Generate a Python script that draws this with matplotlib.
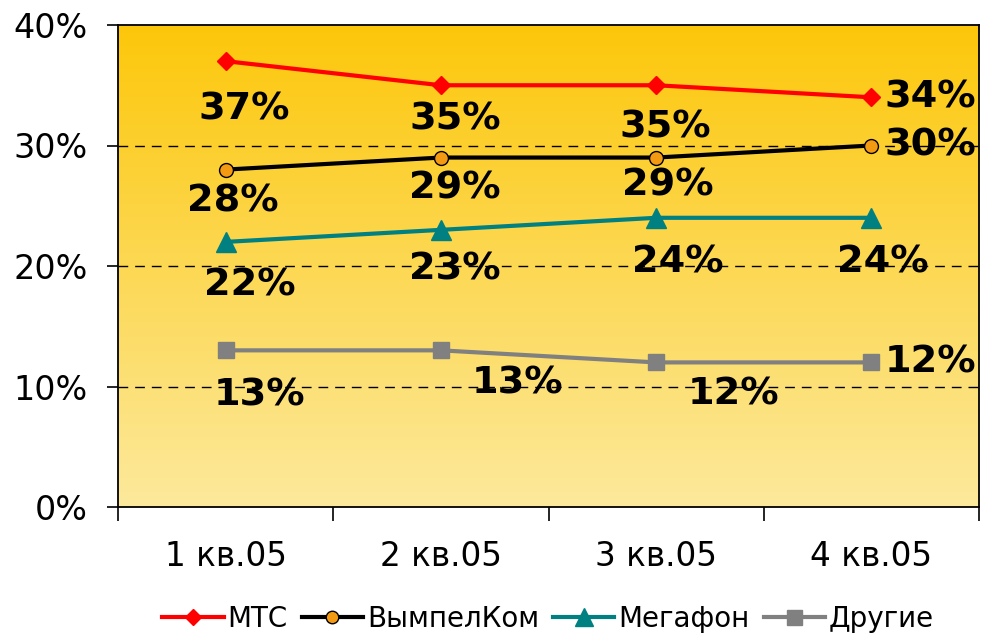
import numpy as np
import matplotlib.pyplot as plt
from matplotlib.colors import LinearSegmentedColormap

quarters = ['1 кв.05', '2 кв.05', '3 кв.05', '4 кв.05']
mts = [37, 35, 35, 34]
vimpelcom = [28, 29, 29, 30]
megafon = [22, 23, 24, 24]
others = [13, 13, 12, 12]

# label offsets from the point, in pixels (dx, dy upwards); None = to the right
off_mts = [(19, -48), (14, -34), (9, -42), None]
off_vimp = [(7, -32), (14, -31), (12, -28), None]
off_mega = [(24, -44), (14, -40), (22, -45), (11, -45)]
off_oth = [(34, -45), (77, -33), (77, -32), None]

plt.rcParams['font.family'] = ['DejaVu Sans']

fig = plt.figure(figsize=(9.86, 6.4), dpi=100)
ax = fig.add_axes([118/986, 1-507/640, (979-118)/986, (507-25)/640])

# gradient background
cmap = LinearSegmentedColormap.from_list('bg', ['#FDE99C', '#FCC70A'])
grad = np.linspace(0, 1, 256).reshape(-1, 1)
ax.imshow(grad, extent=[0, 4, 0, 40], origin='lower', cmap=cmap,
          aspect='auto', zorder=0)

x = np.arange(len(quarters)) + 0.5

series = [
    (mts, 'МТС', dict(color='#FF0000', marker='D', markersize=9, lw=3,
                       markerfacecolor='#FF0000', markeredgecolor='#FF0000'), off_mts),
    (vimpelcom, 'ВымпелКом', dict(color='black', marker='o', markersize=10, lw=3,
                                  markerfacecolor='#F39A12', markeredgecolor='black',
                                  markeredgewidth=1), off_vimp),
    (megafon, 'Мегафон', dict(color='#008080', marker='^', markersize=14, lw=3,
                              markerfacecolor='#008080', markeredgecolor='#008080'), off_mega),
    (others, 'Другие', dict(color='#808080', marker='s', markersize=12, lw=3,
                            markerfacecolor='#808080', markeredgecolor='#808080'), off_oth),
]

for vals, name, style, offs in series:
    ax.plot(x, vals, label=name, zorder=3, **style)
    for xi, v, o in zip(x, vals, offs):
        if o is None:
            ax.annotate(f'{v}%', (xi, v), xytext=(13, 0), textcoords='offset pixels',
                        ha='left', va='center', fontsize=27.5, fontweight='bold',
                        zorder=4, annotation_clip=False)
        else:
            ax.annotate(f'{v}%', (xi, v), xytext=o, textcoords='offset pixels',
                        ha='center', va='center', fontsize=27.5, fontweight='bold',
                        zorder=4, annotation_clip=False)

ax.set_xlim(0, 4)
ax.set_ylim(0, 40)
ax.set_yticks([0, 10, 20, 30, 40])
ax.set_yticklabels([f'{t}%' for t in [0, 10, 20, 30, 40]])
ax.set_xticks([0, 1, 2, 3, 4])
ax.set_xticklabels([])
ax.set_xticks(x, minor=True)
ax.set_xticklabels(quarters, minor=True)
ax.tick_params(axis='x', which='minor', length=0, pad=24, labelsize=23.5)
ax.tick_params(axis='x', which='major', length=10, width=1.2, direction='out')
ax.tick_params(axis='y', length=8, width=1.2, direction='out', labelsize=24, pad=14)

for y in [10, 20, 30]:
    ax.axhline(y, color='black', lw=1, ls=(0, (7, 5)), zorder=1)

for s in ax.spines.values():
    s.set_color('black')
    s.set_linewidth(1.3)

fig.legend(loc='lower center', bbox_to_anchor=(0.556, -0.028), ncol=4, frameon=False,
           fontsize=20, handlelength=2.2, handletextpad=0.15, columnspacing=0.5,
           markerscale=0.9)

plt.savefig('out.png', dpi=100)
